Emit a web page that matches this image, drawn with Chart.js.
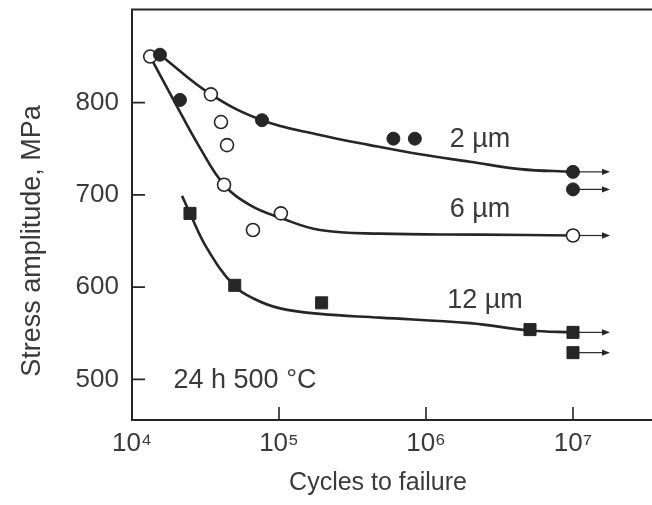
<!DOCTYPE html>
<html>
<head>
<meta charset="utf-8">
<script src="https://cdn.jsdelivr.net/npm/chart.js@4/dist/chart.umd.min.js"></script>
<style>
html,body{margin:0;padding:0;background:#fff;}
#wrap{width:652px;height:505px;}
canvas{display:block;}
</style>
</head>
<body>
<div id="wrap"><canvas id="c" width="652" height="505"></canvas></div>
<script>
// ---------- data ----------
const xTicks = [1e4, 1e5, 1e6, 1e7];
const yTicks = [500, 600, 700, 800];
const xTitle = 'Cycles to failure';
const yTitle = 'Stress amplitude, MPa';

// 2 µm grain size – filled circles
const cycles2 = [15500, 21200, 76600, 600000, 840000, 1e7, 1e7];
const stress2 = [852, 803, 781, 761, 761, 725, 706];
const runout2 = [false, false, false, false, false, true, true];
// fitted curve, 2 µm
const curveCycles2 = [15500, 34400, 76600, 190000, 416000, 910000, 1990000, 4360000, 1e7];
const curveStress2 = [852, 809, 781, 765, 754, 744, 736, 728, 725];

// 6 µm grain size – open circles
const cycles6 = [13300, 34400, 40300, 44300, 42300, 66500, 103000, 1e7];
const stress6 = [850, 809, 779, 754, 711, 662, 680, 656];
const runout6 = [false, false, false, false, false, false, false, true];
// fitted curve, 6 µm
const curveCycles6 = [13300, 19600, 29000, 42300, 63500, 103000, 190000, 486000, 2330000, 1e7];
const curveStress6 = [850, 800, 751, 711, 689, 675, 662, 658, 657, 656];

// 12 µm grain size – filled squares
const cycles12 = [24800, 50000, 195000, 5100000, 1e7, 1e7];
const stress12 = [680, 602, 583, 554, 551, 529];
const runout12 = [false, false, false, false, true, true];
// fitted curve, 12 µm
const curveCycles12 = [21900, 24800, 32400, 48600, 66500, 101700, 190000, 486000, 1990000, 5090000, 1e7];
const curveStress12 = [699, 680, 642, 603, 588, 577, 571, 567, 561, 553, 551];

// text labels inside the plot
const noteTexts = ['2 µm', '6 µm', '12 µm', '24 h 500 °C'];
const noteCycles = [2330000, 2330000, 2520000, 58700];
const noteStress = [760, 684, 585, 499];

// ---------- rendering ----------
const INK = '#262626';
const TEXT = '#3a3a3a';
const FONT = "'Liberation Sans', Arial, Helvetica, sans-serif";
const SUP = {'0':'⁰','1':'¹','2':'²','3':'³','4':'⁴','5':'⁵','6':'⁶','7':'⁷','8':'⁸','9':'⁹'};
const powLabel = v => '10' + String(Math.round(Math.log10(v))).split('').map(d => SUP[d]).join('');
const pts = (xs, ys) => xs.map((x, i) => ({x: x, y: ys[i]}));
const Y_TITLE_CENTER = 650;   // stress level at which the rotated y title is centred

const curveDs = (xs, ys) => ({
  data: pts(xs, ys), showLine: true, pointRadius: 0, borderColor: INK, borderWidth: 2.6,
  tension: 0.4, fill: false, order: 2
});

const frameAndTicks = {
  id: 'frameAndTicks',
  afterDraw(chart) {
    const {ctx, chartArea: a, scales: {x, y}} = chart;
    ctx.save();
    ctx.strokeStyle = INK;
    ctx.lineWidth = 1.6;
    ctx.beginPath();
    xTicks.forEach(v => { const px = x.getPixelForValue(v); ctx.moveTo(px, a.bottom); ctx.lineTo(px, a.bottom - 13); });
    yTicks.forEach(v => { const py = y.getPixelForValue(v); ctx.moveTo(a.left, py); ctx.lineTo(a.left + 13, py); });
    ctx.stroke();
    ctx.lineWidth = 2;
    ctx.beginPath();
    ctx.moveTo(a.left - 1, a.top); ctx.lineTo(chart.width, a.top);
    ctx.moveTo(a.right, a.bottom); ctx.lineTo(chart.width, a.bottom);
    ctx.stroke();
    // rotated y-axis title
    ctx.fillStyle = TEXT;
    ctx.font = "27px " + FONT;
    ctx.textAlign = 'center';
    ctx.textBaseline = 'middle';
    ctx.translate(33, y.getPixelForValue(Y_TITLE_CENTER));
    ctx.rotate(-Math.PI / 2);
    ctx.fillText(yTitle, 0, 0);
    ctx.restore();
  }
};

const runoutArrows = {
  id: 'runoutArrows',
  afterDatasetsDraw(chart) {
    const {ctx, scales: {x, y}} = chart;
    const sets = [[cycles2, stress2, runout2], [cycles6, stress6, runout6], [cycles12, stress12, runout12]];
    ctx.save();
    ctx.strokeStyle = INK; ctx.fillStyle = INK; ctx.lineWidth = 1.2;
    sets.forEach(([cx, sy, ro]) => {
      cx.forEach((c, i) => {
        if (!ro[i]) return;
        const px = x.getPixelForValue(c), py = y.getPixelForValue(sy[i]);
        const tip = px + 37;
        ctx.beginPath(); ctx.moveTo(px + 6, py); ctx.lineTo(tip - 6, py); ctx.stroke();
        ctx.beginPath(); ctx.moveTo(tip, py); ctx.lineTo(tip - 8, py - 3.2); ctx.lineTo(tip - 8, py + 3.2); ctx.closePath(); ctx.fill();
      });
    });
    ctx.restore();
  }
};

const notes = {
  id: 'notes',
  afterDraw(chart) {
    const {ctx, scales: {x, y}} = chart;
    ctx.save();
    ctx.fillStyle = TEXT;
    ctx.font = "27px " + FONT;
    ctx.textAlign = 'center';
    ctx.textBaseline = 'middle';
    noteTexts.forEach((t, i) => ctx.fillText(t, x.getPixelForValue(noteCycles[i]), y.getPixelForValue(noteStress[i])));
    ctx.restore();
  }
};

new Chart(document.getElementById('c'), {
  type: 'scatter',
  data: {
    datasets: [
      curveDs(curveCycles2, curveStress2),
      curveDs(curveCycles6, curveStress6),
      curveDs(curveCycles12, curveStress12),
      { data: pts(cycles2, stress2), pointStyle: 'circle', pointRadius: 6.5, backgroundColor: INK, borderColor: INK, borderWidth: 1, order: 1 },
      { data: pts(cycles6, stress6), pointStyle: 'circle', pointRadius: 6.5, backgroundColor: '#ffffff', borderColor: INK, borderWidth: 1.6, order: 1 },
      { data: pts(cycles12, stress12), pointStyle: 'rect', pointRadius: 8.5, backgroundColor: INK, borderColor: INK, borderWidth: 1, order: 1 }
    ]
  },
  options: {
    responsive: false,
    animation: false,
    devicePixelRatio: 1,
    layout: { padding: { top: 6, right: 28, left: 0, bottom: 0 } },
    plugins: { legend: { display: false }, tooltip: { enabled: false } },
    scales: {
      x: {
        type: 'logarithmic',
        min: 1e4,
        max: Math.pow(10, 7.347),
        afterBuildTicks: s => { s.ticks = xTicks.map(v => ({ value: v })); },
        afterFit: s => { s.height = 85; s.paddingLeft = 0; s.paddingRight = 0; },
        grid: { display: false, drawTicks: false },
        border: { display: true, color: INK, width: 2 },
        ticks: { callback: v => powLabel(v), font: { family: FONT, size: 26 }, color: TEXT, padding: 8, maxRotation: 0, autoSkip: false },
        title: { display: true, text: xTitle, font: { family: FONT, size: 25 }, color: TEXT, padding: { top: 0, bottom: 7 } }
      },
      y: {
        min: 456,
        max: 901,
        afterBuildTicks: s => { s.ticks = yTicks.map(v => ({ value: v })); },
        afterFit: s => { s.width = 132; s.paddingTop = 0; s.paddingBottom = 0; },
        grid: { display: false, drawTicks: false },
        border: { display: true, color: INK, width: 2 },
        ticks: { font: { family: FONT, size: 26 }, color: TEXT, padding: 13 },
        title: { display: false, text: yTitle }
      }
    }
  },
  plugins: [frameAndTicks, runoutArrows, notes]
});
</script>
</body>
</html>
